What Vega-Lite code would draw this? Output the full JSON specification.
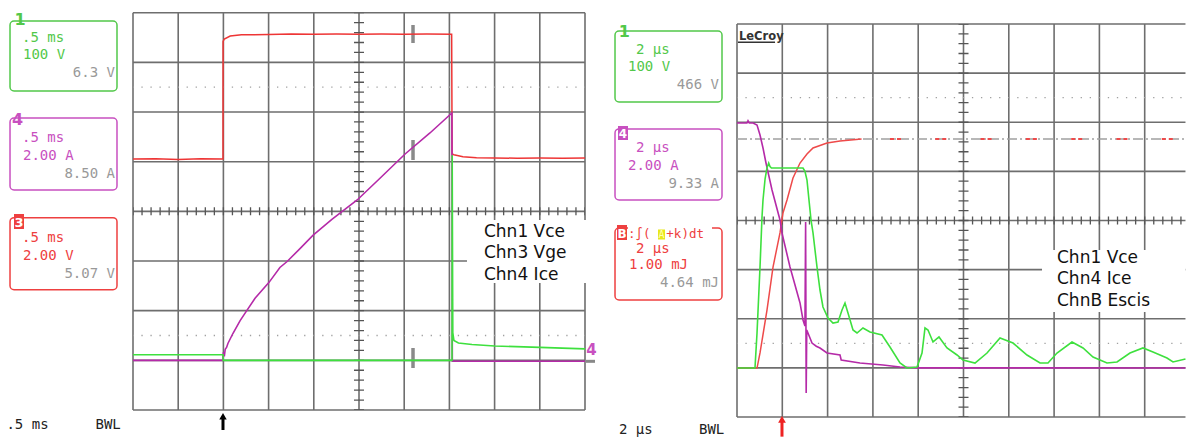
{
"$schema": "https://vega.github.io/schema/vega-lite/v6.json",
"background": "white",
"padding": 0,
"spacing": 0,
"config": {"view": {"stroke": null}, "concat": {"spacing": 0}},
"resolve": {"scale": {"x": "independent", "y": "independent"}},
"hconcat": [
{
"width": 600, "height": 437,
"encoding": {
 "x": {"field": "x", "type": "quantitative", "scale": {"domain": [-2.9425, 10.3319], "nice": false, "zero": false}, "axis": null},
 "y": {"field": "y", "type": "quantitative", "scale": {"domain": [-4.5439, 4.2559], "nice": false, "zero": false}, "axis": null}
},
"layer": [
 {"data": {"values": [{"x":0,"y":-4,"y2":4},{"x":1,"y":-4,"y2":4},{"x":2,"y":-4,"y2":4},{"x":3,"y":-4,"y2":4},{"x":4,"y":-4,"y2":4},{"x":5,"y":-4,"y2":4},{"x":6,"y":-4,"y2":4},{"x":7,"y":-4,"y2":4},{"x":8,"y":-4,"y2":4},{"x":9,"y":-4,"y2":4},{"x":10,"y":-4,"y2":4}]},
  "mark": {"type": "rule", "color": "#6e6e6e", "strokeWidth": 1.6},
  "encoding": {"y2": {"field": "y2"}}},
 {"data": {"values": [{"y":-4,"x":0,"x2":10},{"y":-3,"x":0,"x2":10},{"y":-2,"x":0,"x2":10},{"y":-1,"x":0,"x2":10},{"y":0,"x":0,"x2":10},{"y":1,"x":0,"x2":10},{"y":2,"x":0,"x2":10},{"y":3,"x":0,"x2":10},{"y":4,"x":0,"x2":10}]},
  "mark": {"type": "rule", "color": "#6e6e6e", "strokeWidth": 1.6},
  "encoding": {"x2": {"field": "x2"}}},
 {"data": {"values": [{"y":2.5,"x":0,"x2":10},{"y":-2.5,"x":0,"x2":10}]},
  "mark": {"type": "rule", "color": "#a0a0a0", "strokeWidth": 1.3, "strokeDash": [1.3, 7.74], "strokeDashOffset": 0.65},
  "encoding": {"x2": {"field": "x2"}}},
 {"data": {"values": [{"x":5,"y":-4,"y2":4}]},
  "mark": {"type": "rule", "color": "#555555", "strokeWidth": 10, "strokeDash": [1.3, 8.632], "strokeDashOffset": 0.65},
  "encoding": {"y2": {"field": "y2"}}},
 {"data": {"values": [{"y":0,"x":0,"x2":10}]},
  "mark": {"type": "rule", "color": "#555555", "strokeWidth": 8, "strokeDash": [1.3, 7.74], "strokeDashOffset": 0.65},
  "encoding": {"x2": {"field": "x2"}}},
 {"data": {"values": [{"x":7.389,"x2":10.155,"y":-0.174,"y2":-1.442}]},
  "mark": {"type": "rect", "fill": "white"},
  "encoding": {"x2": {"field": "x2"}, "y2": {"field": "y2"}}},
 {"data": {"values": [{"x":7.765,"y":-0.517,"t":"Chn1 Vce"},{"x":7.765,"y":-0.94,"t":"Chn3 Vge"},{"x":7.765,"y":-1.383,"t":"Chn4 Ice"}]},
  "mark": {"type": "text", "font": "DejaVu Sans", "fontSize": 17, "color": "#111111", "align": "left", "baseline": "alphabetic"},
  "encoding": {"text": {"field": "t"}}},
 {"data": {"values": [{"c":"g","x":-2.721,"x2":-0.354,"y":3.832,"y2":2.424},{"c":"m","x":-2.721,"x2":-0.354,"y":1.88,"y2":0.43},{"c":"r","x":-2.721,"x2":-0.354,"y":-0.128,"y2":-1.578}]},
  "mark": {"type": "rect", "filled": false, "cornerRadius": 4, "strokeWidth": 1.5},
  "encoding": {"x2": {"field": "x2"}, "y2": {"field": "y2"},
   "color": {"field": "c", "type": "nominal", "scale": {"domain": ["g","m","r"], "range": ["#52c84a","#c850c0","#ee4040"]}, "legend": null}}},
 {"data": {"values": [{"c":"g","x":-2.456,"y":3.411,"t":".5 ms"},{"c":"g","x":-2.434,"y":3.069,"t":"100 V"},{"c":"m","x":-2.456,"y":1.396,"t":".5 ms"},{"c":"m","x":-2.434,"y":1.034,"t":"2.00 A"},{"c":"r","x":-2.456,"y":-0.616,"t":".5 ms"},{"c":"r","x":-2.434,"y":-0.978,"t":"2.00 V"}]},
  "mark": {"type": "text", "font": "DejaVu Sans Mono", "fontSize": 14, "align": "left", "baseline": "alphabetic"},
  "encoding": {"text": {"field": "t"}, "color": {"field": "c", "type": "nominal", "legend": null}}},
 {"data": {"values": [{"x":-0.398,"y":2.706,"t":"6.3 V"},{"x":-0.398,"y":0.672,"t":"8.50 A"},{"x":-0.398,"y":-1.341,"t":"5.07 V"}]},
  "mark": {"type": "text", "font": "DejaVu Sans Mono", "fontSize": 14, "align": "right", "baseline": "alphabetic", "color": "#999999"},
  "encoding": {"text": {"field": "t"}}},
 {"data": {"values": [{"c":"g","x":-2.50,"y":3.752,"t":"1"},{"c":"m","x":-2.555,"y":1.739,"t":"4"}]},
  "mark": {"type": "text", "font": "DejaVu Sans", "fontSize": 16, "fontWeight": "bold", "align": "center", "baseline": "alphabetic"},
  "encoding": {"text": {"field": "t"}, "color": {"field": "c", "type": "nominal", "legend": null}}},
 {"data": {"values": [{"c":"r","x":-2.633,"x2":-2.412,"y":-0.053,"y2":-0.355}]},
  "mark": {"type": "rect"},
  "encoding": {"x2": {"field": "x2"}, "y2": {"field": "y2"}, "color": {"field": "c", "type": "nominal", "legend": null}}},
 {"data": {"values": [{"x":-2.522,"y":-0.315,"t":"3"}]},
  "mark": {"type": "text", "font": "DejaVu Sans", "fontSize": 13, "fontWeight": "bold", "align": "center", "baseline": "alphabetic", "color": "white"},
  "encoding": {"text": {"field": "t"}}},
 {"data": {"values": [{"x":-2.80,"y":-4.383,"t":".5 ms"},{"x":-0.83,"y":-4.383,"t":"BWL"}]},
  "mark": {"type": "text", "font": "DejaVu Sans Mono", "fontSize": 14, "align": "left", "baseline": "alphabetic", "color": "#222222"},
  "encoding": {"text": {"field": "t"}}},
 {"data": {"values": [{"x":1.991,"y":-4.403,"y2":-4.17}]},
  "mark": {"type": "rule", "color": "black", "strokeWidth": 3},
  "encoding": {"y2": {"field": "y2"}}},
 {"data": {"values": [{"x":1.991,"y":-4.125}]},
  "mark": {"type": "point", "shape": "triangle-up", "filled": true, "color": "black", "size": 55, "opacity": 1}},
 {"data": {"values": [{"x":6.195,"y":3.39,"y2":3.753},{"x":6.195,"y":1.034,"y2":1.437},{"x":6.195,"y":-2.752,"y2":-3.155}]},
  "mark": {"type": "rule", "color": "#8a8a8a", "strokeWidth": 3.5},
  "encoding": {"y2": {"field": "y2"}}},
 {"data": {"values": [{"x":0,"y":1.054},{"x":0.5,"y":1.06},{"x":1.0,"y":1.045},{"x":1.5,"y":1.06},{"x":1.991,"y":1.054},{"x":1.993,"y":3.42},{"x":2.02,"y":3.47},{"x":2.15,"y":3.53},{"x":2.4,"y":3.555},{"x":3.0,"y":3.56},{"x":3.5,"y":3.57},{"x":4.0,"y":3.565},{"x":4.5,"y":3.57},{"x":5.0,"y":3.565},{"x":5.5,"y":3.57},{"x":6.0,"y":3.565},{"x":6.5,"y":3.57},{"x":7.05,"y":3.565},{"x":7.06,"y":1.155},{"x":7.1,"y":1.14},{"x":7.3,"y":1.1},{"x":7.6,"y":1.08},{"x":8.0,"y":1.075},{"x":8.5,"y":1.07},{"x":9.0,"y":1.075},{"x":9.5,"y":1.07},{"x":10.0,"y":1.075}]},
  "mark": {"type": "line", "color": "#ee3535", "strokeWidth": 1.5}},
 {"data": {"values": [{"x":0,"y":-3.0},{"x":1.99,"y":-3.0},{"x":2.0,"y":-2.84},{"x":2.02,"y":-2.92},{"x":2.04,"y":-2.78},{"x":2.07,"y":-2.74},{"x":2.1,"y":-2.66},{"x":2.21,"y":-2.46},{"x":2.37,"y":-2.2},{"x":2.48,"y":-2.05},{"x":2.7,"y":-1.75},{"x":3.01,"y":-1.43},{"x":3.25,"y":-1.13},{"x":3.41,"y":-1.01},{"x":3.7,"y":-0.745},{"x":3.98,"y":-0.483},{"x":4.4,"y":-0.161},{"x":4.96,"y":0.229},{"x":5.47,"y":0.672},{"x":6.02,"y":1.155},{"x":6.57,"y":1.578},{"x":7.055,"y":1.98},{"x":7.065,"y":-3.02},{"x":10,"y":-3.02}]},
  "mark": {"type": "line", "color": "#b52aa8", "strokeWidth": 1.6}},
 {"data": {"values": [{"x":0,"y":-2.889},{"x":1.0,"y":-2.889},{"x":1.991,"y":-2.889},{"x":1.995,"y":-3.0},{"x":4,"y":-3.0},{"x":7.058,"y":-3.0},{"x":7.062,"y":1.13},{"x":7.075,"y":-2.44},{"x":7.1,"y":-2.6},{"x":7.2,"y":-2.65},{"x":7.5,"y":-2.68},{"x":8.0,"y":-2.71},{"x":9.0,"y":-2.74},{"x":10,"y":-2.77}]},
  "mark": {"type": "line", "color": "#3ee03e", "strokeWidth": 1.6}},
 {"data": {"values": [{"x":10.022,"x2":10.221,"y":-3.02}]},
  "mark": {"type": "rule", "color": "#888888", "strokeWidth": 3},
  "encoding": {"x2": {"field": "x2"}}},
 {"data": {"values": [{"c":"m","x":10.144,"y":-2.893,"t":"4"}]},
  "mark": {"type": "text", "font": "DejaVu Sans", "fontSize": 15, "fontWeight": "bold", "align": "center", "baseline": "alphabetic"},
  "encoding": {"text": {"field": "t"}, "color": {"field": "c", "type": "nominal", "legend": null}}}
]
},
{
"width": 586, "height": 437,
"encoding": {
 "x": {"field": "x", "type": "quantitative", "scale": {"domain": [-3.0243, 9.9117], "nice": false, "zero": false}, "axis": null},
 "y": {"field": "y", "type": "quantitative", "scale": {"domain": [-4.4071, 4.4885], "nice": false, "zero": false}, "axis": null}
},
"layer": [
 {"data": {"values": [{"x":0,"y":-4,"y2":4},{"x":1,"y":-4,"y2":4},{"x":2,"y":-4,"y2":4},{"x":3,"y":-4,"y2":4},{"x":4,"y":-4,"y2":4},{"x":5,"y":-4,"y2":4},{"x":6,"y":-4,"y2":4},{"x":7,"y":-4,"y2":4},{"x":8,"y":-4,"y2":4},{"x":9,"y":-4,"y2":4}]},
  "mark": {"type": "rule", "color": "#6e6e6e", "strokeWidth": 1.6},
  "encoding": {"y2": {"field": "y2"}}},
 {"data": {"values": [{"y":-4,"x":0,"x2":9.9},{"y":-3,"x":0,"x2":9.9},{"y":-2,"x":0,"x2":9.9},{"y":-1,"x":0,"x2":9.9},{"y":0,"x":0,"x2":9.9},{"y":1,"x":0,"x2":9.9},{"y":2,"x":0,"x2":9.9},{"y":3,"x":0,"x2":9.9},{"y":4,"x":0,"x2":9.9}]},
  "mark": {"type": "rule", "color": "#6e6e6e", "strokeWidth": 1.6},
  "encoding": {"x2": {"field": "x2"}}},
 {"data": {"values": [{"y":2.5,"x":0,"x2":9.9},{"y":-2.5,"x":0,"x2":9.9}]},
  "mark": {"type": "rule", "color": "#a0a0a0", "strokeWidth": 1.3, "strokeDash": [1.3, 7.76], "strokeDashOffset": 0.65},
  "encoding": {"x2": {"field": "x2"}}},
 {"data": {"values": [{"x":5,"y":-4,"y2":4}]},
  "mark": {"type": "rule", "color": "#555555", "strokeWidth": 10, "strokeDash": [1.3, 8.525], "strokeDashOffset": 0.65},
  "encoding": {"y2": {"field": "y2"}}},
 {"data": {"values": [{"y":0,"x":0,"x2":9.9}]},
  "mark": {"type": "rule", "color": "#555555", "strokeWidth": 8, "strokeDash": [1.3, 7.76], "strokeDashOffset": 0.65},
  "encoding": {"x2": {"field": "x2"}}},
 {"data": {"values": [{"x":0.044,"y":3.674,"t":"LeCroy"}]},
  "mark": {"type": "text", "font": "DejaVu Sans", "fontSize": 11.5, "fontWeight": "bold", "align": "left", "baseline": "alphabetic", "color": "#333333"},
  "encoding": {"text": {"field": "t"}}},
 {"data": {"values": [{"x":0.022,"x2":0.84,"y":3.63}]},
  "mark": {"type": "rule", "color": "#333333", "strokeWidth": 1.5},
  "encoding": {"x2": {"field": "x2"}}},
 {"data": {"values": [{"y":1.659,"x":0,"x2":9.9}]},
  "mark": {"type": "rule", "color": "#a0a0a0", "strokeWidth": 1.5, "strokeDash": [10, 3, 2, 3]},
  "encoding": {"x2": {"field": "x2"}}},
 {"data": {"values": [{"x":6.733,"x2":9.9,"y":-0.601,"y2":-1.863}]},
  "mark": {"type": "rect", "fill": "white"},
  "encoding": {"x2": {"field": "x2"}, "y2": {"field": "y2"}}},
 {"data": {"values": [{"x":7.064,"y":-0.865,"t":"Chn1 Vce"},{"x":7.064,"y":-1.293,"t":"Chn4 Ice"},{"x":7.064,"y":-1.74,"t":"ChnB Escis"}]},
  "mark": {"type": "text", "font": "DejaVu Sans", "fontSize": 17, "color": "#111111", "align": "left", "baseline": "alphabetic"},
  "encoding": {"text": {"field": "t"}}},
 {"data": {"values": [{"c":"g","x":-2.693,"x2":-0.331,"y":3.857,"y2":2.412},{"c":"m","x":-2.693,"x2":-0.331,"y":1.863,"y2":0.417},{"c":"r","x":-2.693,"x2":-0.331,"y":-0.153,"y2":-1.618}]},
  "mark": {"type": "rect", "filled": false, "cornerRadius": 4, "strokeWidth": 1.5},
  "encoding": {"x2": {"field": "x2"}, "y2": {"field": "y2"},
   "color": {"field": "c", "type": "nominal", "scale": {"domain": ["g","m","r"], "range": ["#52c84a","#c850c0","#ee4040"]}, "legend": null}}},
 {"data": {"values": [{"x":-2.406,"x2":-0.552,"y":-0.071,"y2":-0.438}]},
  "mark": {"type": "rect", "fill": "white"},
  "encoding": {"x2": {"field": "x2"}, "y2": {"field": "y2"}}},
 {"data": {"values": [{"c":"g","x":-2.23,"y":3.389,"t":"2 µs"},{"c":"g","x":-2.406,"y":3.043,"t":"100 V"},{"c":"m","x":-2.23,"y":1.394,"t":"2 µs"},{"c":"m","x":-2.406,"y":1.028,"t":"2.00 A"},{"c":"r","x":-2.23,"y":-0.662,"t":"2 µs"},{"c":"r","x":-2.384,"y":-0.99,"t":"1.00 mJ"}]},
  "mark": {"type": "text", "font": "DejaVu Sans Mono", "fontSize": 14, "align": "left", "baseline": "alphabetic"},
  "encoding": {"text": {"field": "t"}, "color": {"field": "c", "type": "nominal", "legend": null}}},
 {"data": {"values": [{"c":"r","x":-2.406,"y":-0.356,"t":":∫("},{"c":"r","x":-1.56,"y":-0.356,"t":"+k)dt"}]},
  "mark": {"type": "text", "font": "DejaVu Sans Mono", "fontSize": 12.5, "align": "left", "baseline": "alphabetic"},
  "encoding": {"text": {"field": "t"}, "color": {"field": "c", "type": "nominal", "legend": null}}},
 {"data": {"values": [{"x":-0.397,"y":2.677,"t":"466 V"},{"x":-0.397,"y":0.662,"t":"9.33 A"},{"x":-0.397,"y":-1.354,"t":"4.64 mJ"}]},
  "mark": {"type": "text", "font": "DejaVu Sans Mono", "fontSize": 14, "align": "right", "baseline": "alphabetic", "color": "#999999"},
  "encoding": {"text": {"field": "t"}}},
 {"data": {"values": [{"c":"g","x":-2.49,"y":3.735,"t":"1"}]},
  "mark": {"type": "text", "font": "DejaVu Sans", "fontSize": 16, "fontWeight": "bold", "align": "center", "baseline": "alphabetic"},
  "encoding": {"text": {"field": "t"}, "color": {"field": "c", "type": "nominal", "legend": null}}},
 {"data": {"values": [{"c":"m","x":-2.627,"x2":-2.406,"y":1.924,"y2":1.639},{"c":"r","x":-2.649,"x2":-2.428,"y":-0.092,"y2":-0.397}]},
  "mark": {"type": "rect"},
  "encoding": {"x2": {"field": "x2"}, "y2": {"field": "y2"}, "color": {"field": "c", "type": "nominal", "legend": null}}},
 {"data": {"values": [{"x":-2.516,"y":1.679,"t":"4"},{"x":-2.538,"y":-0.366,"t":"B"}]},
  "mark": {"type": "text", "font": "DejaVu Sans", "fontSize": 12, "fontWeight": "bold", "align": "center", "baseline": "alphabetic", "color": "white"},
  "encoding": {"text": {"field": "t"}}},
 {"data": {"values": [{"x":-1.744,"x2":-1.589,"y":-0.183,"y2":-0.387}]},
  "mark": {"type": "rect", "fill": "#e8e81a"},
  "encoding": {"x2": {"field": "x2"}, "y2": {"field": "y2"}}},
 {"data": {"values": [{"x":-1.666,"y":-0.366,"t":"A"}]},
  "mark": {"type": "text", "font": "DejaVu Sans Mono", "fontSize": 10, "align": "center", "baseline": "alphabetic", "color": "#ffffb0"},
  "encoding": {"text": {"field": "t"}}},
 {"data": {"values": [{"x":-2.605,"y":-4.336,"t":"2 µs"},{"x":-0.84,"y":-4.336,"t":"BWL"}]},
  "mark": {"type": "text", "font": "DejaVu Sans Mono", "fontSize": 14, "align": "left", "baseline": "alphabetic", "color": "#222222"},
  "encoding": {"text": {"field": "t"}}},
 {"data": {"values": [{"x":0.993,"y":-4.40,"y2":-4.1}]},
  "mark": {"type": "rule", "color": "#ee2222", "strokeWidth": 3},
  "encoding": {"y2": {"field": "y2"}}},
 {"data": {"values": [{"x":0.993,"y":-4.05}]},
  "mark": {"type": "point", "shape": "triangle-up", "filled": true, "color": "#ee2222", "size": 60, "opacity": 1}},
 {"data": {"values": [{"x":0,"y":-3.003},{"x":0.442,"y":-3.003},{"x":0.508,"y":-2.697},{"x":0.662,"y":-1.822},{"x":0.795,"y":-0.947},{"x":0.949,"y":-0.254},{"x":1.015,"y":0.153},{"x":1.104,"y":0.417},{"x":1.236,"y":0.865},{"x":1.391,"y":1.17},{"x":1.545,"y":1.354},{"x":1.678,"y":1.476},{"x":1.987,"y":1.578},{"x":2.274,"y":1.618},{"x":2.75,"y":1.659}]},
  "mark": {"type": "line", "color": "#ee4a4a", "strokeWidth": 1.5}},
 {"data": {"values": [{"x":3.377,"x2":9.9,"y":1.659}]},
  "mark": {"type": "rule", "color": "#ee4a4a", "strokeWidth": 2, "strokeDash": [4, 3, 4, 34.3]},
  "encoding": {"x2": {"field": "x2"}}},
 {"data": {"values": [{"x":0,"y":1.985},{"x":0.22,"y":1.985},{"x":0.243,"y":2.03},{"x":0.27,"y":1.985},{"x":0.353,"y":1.985},{"x":0.442,"y":1.944},{"x":0.508,"y":1.74},{"x":0.574,"y":1.476},{"x":0.64,"y":1.17},{"x":0.684,"y":0.987},{"x":0.773,"y":0.621},{"x":0.949,"y":0.01},{"x":0.993,"y":-0.254},{"x":1.17,"y":-0.947},{"x":1.391,"y":-1.679},{"x":1.457,"y":-2.025},{"x":1.5,"y":-2.15},{"x":1.515,"y":-0.031},{"x":1.527,"y":-3.511},{"x":1.54,"y":-2.229},{"x":1.656,"y":-2.494},{"x":1.75,"y":-2.56},{"x":1.832,"y":-2.595},{"x":1.987,"y":-2.697},{"x":2.274,"y":-2.738},{"x":2.3,"y":-2.84},{"x":2.715,"y":-2.901},{"x":3.223,"y":-2.942},{"x":3.598,"y":-2.982},{"x":4.0,"y":-3.0},{"x":6.0,"y":-3.0},{"x":9.9,"y":-3.003}]},
  "mark": {"type": "line", "color": "#b52aa8", "strokeWidth": 1.6}},
 {"data": {"values": [{"x":0,"y":-3.003},{"x":0.397,"y":-3.003},{"x":0.442,"y":-2.29},{"x":0.508,"y":-0.947},{"x":0.552,"y":0.071},{"x":0.574,"y":0.417},{"x":0.62,"y":0.85},{"x":0.662,"y":1.069},{"x":0.7,"y":1.17},{"x":0.728,"y":1.1},{"x":0.76,"y":1.069},{"x":1.0,"y":1.069},{"x":1.3,"y":1.069},{"x":1.457,"y":1.069},{"x":1.5,"y":1.0},{"x":1.545,"y":0.824},{"x":1.589,"y":0.417},{"x":1.634,"y":0.01},{"x":1.678,"y":-0.254},{"x":1.766,"y":-0.947},{"x":1.832,"y":-1.415},{"x":1.898,"y":-1.761},{"x":2.009,"y":-1.985},{"x":2.119,"y":-2.087},{"x":2.23,"y":-2.066},{"x":2.318,"y":-1.822},{"x":2.384,"y":-1.679},{"x":2.45,"y":-1.883},{"x":2.561,"y":-2.229},{"x":2.649,"y":-2.29},{"x":2.781,"y":-2.188},{"x":2.936,"y":-2.27},{"x":3.201,"y":-2.331},{"x":3.377,"y":-2.575},{"x":3.598,"y":-2.901},{"x":3.753,"y":-3.003},{"x":3.974,"y":-2.982},{"x":4.084,"y":-2.697},{"x":4.15,"y":-2.188},{"x":4.216,"y":-2.229},{"x":4.327,"y":-2.473},{"x":4.459,"y":-2.371},{"x":4.636,"y":-2.595},{"x":4.857,"y":-2.738},{"x":4.989,"y":-2.84},{"x":5.254,"y":-2.901},{"x":5.519,"y":-2.697},{"x":5.806,"y":-2.392},{"x":6.093,"y":-2.494},{"x":6.402,"y":-2.738},{"x":6.689,"y":-2.901},{"x":6.865,"y":-2.901},{"x":7.064,"y":-2.697},{"x":7.395,"y":-2.473},{"x":7.638,"y":-2.595},{"x":7.859,"y":-2.779},{"x":8.168,"y":-2.901},{"x":8.389,"y":-2.88},{"x":8.675,"y":-2.697},{"x":8.962,"y":-2.595},{"x":9.183,"y":-2.677},{"x":9.492,"y":-2.799},{"x":9.625,"y":-2.88},{"x":9.9,"y":-2.819}]},
  "mark": {"type": "line", "color": "#3ee03e", "strokeWidth": 1.6}}
]
}
]
}
